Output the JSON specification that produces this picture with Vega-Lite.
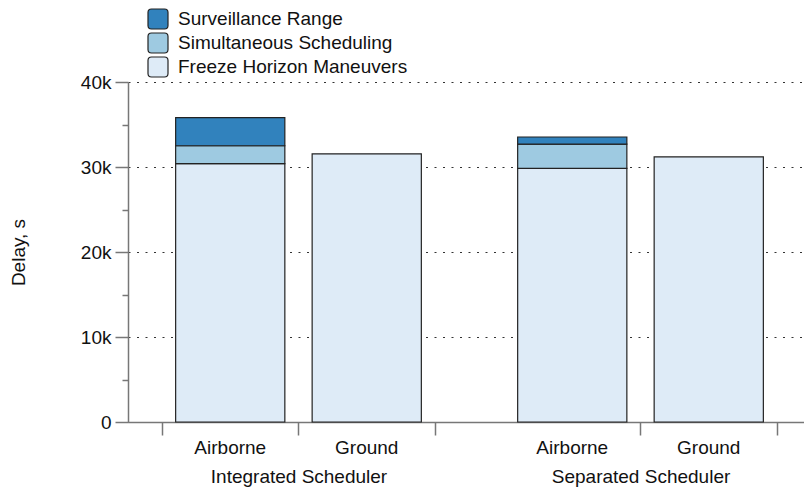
{
  "$schema": "https://vega.github.io/schema/vega-lite/v6.json",
  "autosize": {"type": "none"},
  "width": 676,
  "height": 340,
  "padding": {"left": 128, "top": 82, "right": 0, "bottom": 67},
  "background": "white",
  "config": {
    "font": "Liberation Sans",
    "view": {"stroke": null},
    "axis": {"labelFont": "Liberation Sans", "titleFont": "Liberation Sans", "labelColor": "#111", "titleColor": "#111"},
    "legend": {"labelFont": "Liberation Sans"}
  },
  "data": {
    "values": [
      {"scheduler": "Integrated Scheduler", "type": "Airborne", "component": "Freeze Horizon Maneuvers", "delay": 30400},
      {"scheduler": "Integrated Scheduler", "type": "Airborne", "component": "Simultaneous Scheduling", "delay": 2100},
      {"scheduler": "Integrated Scheduler", "type": "Airborne", "component": "Surveillance Range", "delay": 3300},
      {"scheduler": "Integrated Scheduler", "type": "Ground", "component": "Freeze Horizon Maneuvers", "delay": 31550},
      {"scheduler": "Separated Scheduler", "type": "Airborne", "component": "Freeze Horizon Maneuvers", "delay": 29850},
      {"scheduler": "Separated Scheduler", "type": "Airborne", "component": "Simultaneous Scheduling", "delay": 2850},
      {"scheduler": "Separated Scheduler", "type": "Airborne", "component": "Surveillance Range", "delay": 830},
      {"scheduler": "Separated Scheduler", "type": "Ground", "component": "Freeze Horizon Maneuvers", "delay": 31180}
    ]
  },
  "layer": [
    {
      "mark": {"type": "bar", "stroke": "#222", "strokeWidth": 1.2},
      "encoding": {
        "x": {
          "field": "scheduler", "type": "nominal", "sort": null,
          "scale": {"paddingInner": 0.2018, "paddingOuter": 0.0994, "range": [0, 683]},
          "axis": {
            "title": null, "orient": "bottom", "tickBand": "extent", "labelAngle": 0,
            "tickSize": 13, "tickColor": "#777", "tickWidth": 1.5,
            "domainColor": "#777", "domainWidth": 1.5,
            "labelFontSize": 19, "labelPadding": 32, "grid": false
          }
        },
        "xOffset": {
          "field": "type", "type": "nominal", "sort": null,
          "scale": {"paddingInner": 0.2, "paddingOuter": 0.1}
        },
        "y": {
          "field": "delay", "type": "quantitative", "stack": "zero",
          "scale": {"domain": [0, 40000], "nice": false},
          "axis": {
            "title": "Delay, s", "titleFontSize": 19, "titleFontWeight": "normal", "titlePadding": 52,
            "values": [0, 10000, 20000, 30000, 40000],
            "labelExpr": "datum.value === 0 ? '0' : format(datum.value, '~s')",
            "labelFontSize": 19, "labelPadding": 4,
            "tickSize": 13, "tickColor": "#777", "tickWidth": 1.5,
            "domainColor": "#777", "domainWidth": 1.5,
            "grid": true, "gridDash": [2, 6.5], "gridColor": "#333", "gridWidth": 1.2
          }
        },
        "color": {
          "field": "component", "type": "nominal",
          "scale": {
            "domain": ["Surveillance Range", "Simultaneous Scheduling", "Freeze Horizon Maneuvers"],
            "range": ["#3182bd", "#9ecae1", "#deebf7"]
          },
          "legend": {
            "title": null, "orient": "none", "legendX": 19, "legendY": -74,
            "labelFontSize": 19, "labelOffset": 9, "labelColor": "#111", "labelLimit": 0,
            "symbolType": "M-1,-0.65Q-1,-1,-0.65,-1L0.65,-1Q1,-1,1,-0.65L1,0.65Q1,1,0.65,1L-0.65,1Q-1,1,-1,0.65Z",
            "symbolSize": 400, "symbolStrokeColor": "#222", "symbolStrokeWidth": 1.2,
            "rowPadding": -2, "padding": 0
          }
        },
        "order": {"field": "component", "sort": "ascending"}
      }
    },
    {
      "transform": [{"filter": "datum.component === 'Freeze Horizon Maneuvers'"}],
      "mark": {"type": "text", "fontSize": 19, "baseline": "alphabetic", "align": "center", "dy": 32, "color": "#111"},
      "encoding": {
        "x": {
          "field": "scheduler", "type": "nominal", "sort": null,
          "scale": {"paddingInner": 0.2018, "paddingOuter": 0.0994, "range": [0, 683]},
          "axis": {
            "title": null, "orient": "bottom", "labels": false, "domain": false, "grid": false,
            "tickSize": 13, "tickColor": "#777", "tickWidth": 1.5
          }
        },
        "xOffset": {
          "field": "type", "type": "nominal", "sort": null,
          "scale": {"type": "point", "padding": 0.5}
        },
        "y": {
          "datum": 0, "type": "quantitative",
          "scale": {"domain": [0, 40000], "nice": false},
          "axis": {
            "title": null, "orient": "left", "labels": false, "domain": false, "grid": false,
            "values": [5000, 15000, 25000, 35000],
            "tickSize": 6, "tickColor": "#777", "tickWidth": 1.5
          }
        },
        "text": {"field": "type", "type": "nominal"}
      }
    }
  ],
  "resolve": {
    "scale": {"x": "independent", "y": "independent", "xOffset": "independent"},
    "axis": {"x": "independent", "y": "independent"}
  }
}
